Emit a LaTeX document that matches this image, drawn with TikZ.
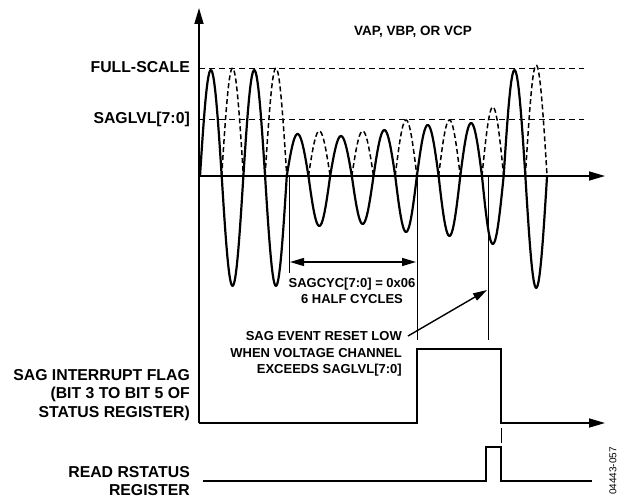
\documentclass[tikz,border=0pt]{standalone}
\usepackage{fontspec}
\setmainfont{Liberation Sans}
\usetikzlibrary{arrows.meta}

\begin{document}
\begin{tikzpicture}[
  x=1pt, y=-1pt,
  axis/.style={line width=1.6pt, -{Triangle[length=16pt, width=9pt]}},
  level/.style={dash pattern=on 6pt off 4pt, line width=0.9pt},
  wave/.style={line width=2.2pt, line join=round},
  halfwave/.style={dash pattern=on 5pt off 3pt, line width=1.5pt},
  signal/.style={line width=1.6pt},
  marker/.style={line width=0.8pt},
  pointer/.style={-{Triangle[length=14pt, width=8pt]}, line width=1.4pt},
  span/.style={{Triangle[length=14pt, width=8pt]}-{Triangle[length=14pt, width=8pt]}, line width=1.4pt},
  lbl/.style={font=\bfseries\fontsize{15.8}{18.5}\selectfont, align=right, anchor=east, inner sep=0pt},
  note/.style={font=\bfseries\fontsize{13}{16.5}\selectfont, inner sep=0pt},
]
  \useasboundingbox (0,0) rectangle (628,500);

  % Axes of the voltage channel and of the flag trace.
  \coordinate (o) at (199,176);
  \coordinate (top) at (199,8);
  \coordinate (tend) at (605,176);
  \coordinate (fbase) at (199,423);
  \coordinate (fend) at (605,423);
  \draw[axis] (fbase) -- (top);
  \draw[axis] (o) -- (tend);

  % Threshold levels.
  \node[lbl] (fs) at (190,67) {FULL-SCALE};
  \node[lbl] (sl) at (190,119) {SAGLVL[7:0]};
  \draw[level] (199,68) -- (584,68);
  \draw[level] (199,119) -- (584,119);
  \node[note, anchor=east, font=\bfseries\fontsize{13.5}{16}\selectfont] (ch) at (472,32) {VAP, VBP, OR VCP};

  % Channel voltage, one half cycle at a time.
  \draw[wave] (200,176) \foreach \k/\a in {0/106,1/-110,2/106,3/-110,4/42,5/-50,6/40,7/-48,
      8/46,9/-56,10/51,11/-60,12/53,13/-68,14/106,15/-112}
    { -- plot[domain=0:180, samples=24] ({200+(\k+\x/180)*21.69}, {176-\a*sin(\x)}) };
  \foreach \k/\a in {1/108,3/108,5/45,7/45,9/56,11/56,13/69,15/111}
    \draw[halfwave] plot[domain=0:180, samples=24] ({200+(\k+\x/180)*21.69}, {176-\a*sin(\x)});

  % Sag count and reset markers.
  \coordinate (m1) at (289,176);
  \coordinate (m1e) at (289,273);
  \coordinate (m2) at (417,176);
  \coordinate (m2e) at (417,340);
  \coordinate (m3) at (488,176);
  \coordinate (m3e) at (488,340);
  \draw[marker] (m1) -- (m1e);
  \draw[marker] (m2) -- (m2e);
  \draw[marker] (m3) -- (m3e);
  \draw[span] (290,262) -- (416,262);
  \node[note, align=center] (cyc) at (352,291) {SAGCYC[7:0] = 0x06\\ 6 HALF CYCLES};

  \node[note, align=right, anchor=east] (reset) at (402,354)
    {SAG EVENT RESET LOW\\ WHEN VOLTAGE CHANNEL\\ EXCEEDS SAGLVL[7:0]};
  \coordinate (hit) at (487,290);
  \draw[pointer] (408,336) -- (hit);

  % Interrupt flag and status read.
  \node[lbl] (flag) at (190,395) {SAG INTERRUPT FLAG\\ (BIT 3 TO BIT 5 OF\\ STATUS REGISTER)};
  \draw[signal, -{Triangle[length=16pt, width=9pt]}]
    (fbase) -- (417,423) -- (417,349) -- (501,349) -- (501,423) -- (fend);
  \draw[marker] (501,428) -- (501,443);

  \node[lbl] (rd) at (190,481) {READ RSTATUS\\ REGISTER};
  \draw[signal] (203,481) -- (486,481) -- (486,447) -- (501,447) -- (501,481) -- (592,481);

  \node[rotate=90, font=\fontsize{10}{12}\selectfont, inner sep=0pt] (fig) at (613,471) {04443-057};
\end{tikzpicture}
\end{document}
